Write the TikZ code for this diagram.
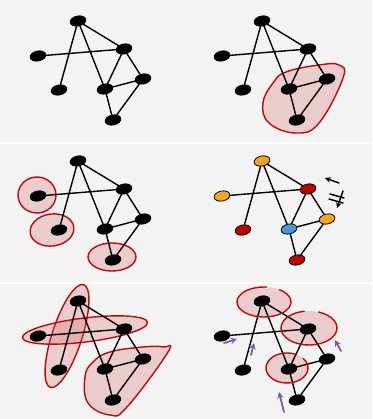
\documentclass[tikz,border=0pt]{standalone}
\usetikzlibrary{shapes.geometric}
\definecolor{bggray}{HTML}{F3F3F3}
\definecolor{blobred}{HTML}{BE0A0A}
\definecolor{blobpink}{HTML}{D25A5A}
\definecolor{vorange}{HTML}{F2A51E}
\definecolor{vred}{HTML}{C00000}
\definecolor{vblue}{HTML}{4A95D5}
\definecolor{hintpurple}{HTML}{7B5BA6}
\tikzset{
  vert/.style={ellipse, draw=black, fill=black, line width=0.8pt, minimum width=16pt, minimum height=10pt, inner sep=0pt, rotate=12},
  colA/.style={}, colB/.style={}, colC/.style={}, colD/.style={},
  colE/.style={}, colF/.style={}, colG/.style={},
  link/.style={line width=1.4pt},
  blob/.style={draw=blobred, line width=1.4pt, fill=blobpink, fill opacity=0.25},
  ring/.style={draw=blobred, line width=1.4pt},
  glow/.style={fill=blobpink, fill opacity=0.25},
  hint/.style={draw=hintpurple, line width=1.8pt, ->},
  note/.style={draw=black, line width=1.5pt}
}
% one copy of the graph, #1 = name prefix, (#2,#3) = panel corner
\newcommand{\graphpanel}[3]{%
  \begin{scope}[shift={(#2,#3)}]
    \node[vert, colA] (#1A) at (78,21) {};
    \node[vert, colB] (#1B) at (38,56) {};
    \node[vert, colC] (#1C) at (124,49) {};
    \node[vert, colD] (#1D) at (59,90) {};
    \node[vert, colE] (#1E) at (105,89) {};
    \node[vert, colF] (#1F) at (143,79) {};
    \node[vert, colG] (#1G) at (113,120) {};
    \draw[link] (#1A) -- (#1D) (#1A) -- (#1E) (#1A) -- (#1C) (#1B) -- (#1C)
      (#1C) -- (#1E) (#1C) -- (#1F) (#1E) -- (#1F) (#1E) -- (#1G) (#1F) -- (#1G);
  \end{scope}}

\begin{document}
\begin{tikzpicture}[x=1pt, y=-1pt, >=stealth, line cap=round, line join=round]
  \useasboundingbox (0,0) rectangle (372,419);
  \fill[bggray] (0,0) rectangle (372,419);
  \draw[white, line width=2pt] (0,143) -- (372,143) (0,283) -- (372,283);

  % top right: one cluster
  \begin{scope}[shift={(184,0)}]
    \draw[blob] plot[smooth cycle, tension=0.7] coordinates {(155,65) (159,78) (135,123) (112,133) (85,123) (79,103) (89,83) (102,72) (135,65)};
  \end{scope}

  % middle left: three single nodes
  \begin{scope}[shift={(0,140)}]
    \draw[blob] (37,55) ellipse[x radius=19, y radius=18];
    \draw[blob, rotate around={8:(52,90)}] (52,90) ellipse[x radius=22, y radius=16];
    \draw[blob] (112,117) ellipse[x radius=24, y radius=14];
  \end{scope}

  % bottom left: three overlapping clusters
  \begin{scope}[shift={(0,280)}]
    \draw[blob, rotate around={72:(67,56)}] (67,56) ellipse[x radius=54, y radius=15];
    \draw[blob, rotate around={7:(85,50)}] (85,50) ellipse[x radius=63, y radius=12];
    \draw[blob] plot[smooth cycle, tension=0.7] coordinates {(163,67) (168,72) (127,127) (110,135) (88,123) (85,97) (93,82) (110,72) (143,67)};
  \end{scope}

  % bottom right: glow under the rings
  \begin{scope}[shift={(184,280)}]
    \fill[glow] (80,22) ellipse[x radius=27, y radius=15];
    \fill[glow] (125,48) ellipse[x radius=28, y radius=17];
    \fill[glow] (103,88) ellipse[x radius=21, y radius=15];
  \end{scope}

  \graphpanel{p}{0}{0}
  \graphpanel{q}{184}{0}
  \graphpanel{r}{0}{140}
  \begin{scope}[colA/.style={fill=vorange}, colB/.style={fill=vorange}, colC/.style={fill=vred},
      colD/.style={fill=vred}, colE/.style={fill=vblue}, colF/.style={fill=vorange}, colG/.style={fill=vred}]
    \graphpanel{s}{184}{140}
  \end{scope}
  \graphpanel{t}{0}{280}
  \graphpanel{u}{184}{280}

  % middle right: swap note
  \begin{scope}[shift={(184,140)}]
    \draw[note, ->] (155,43) -- (141,38);
    \draw[note, ->] (159,51) -- (153,68);
    \draw[note] (146,54) -- (160,58) (145,59) -- (159,63);
  \end{scope}

  % bottom right: open rings and moves
  \begin{scope}[shift={(184,280)}]
    \draw[ring] (80,22) ++(-55:27 and 15) arc[start angle=-55, end angle=275, x radius=27, y radius=15];
    \draw[ring] (125,48) ++(-70:28 and 17) arc[start angle=-70, end angle=260, x radius=28, y radius=17];
    \draw[ring] (103,88) ++(-40:21 and 15) arc[start angle=-40, end angle=295, x radius=21, y radius=15];
    \draw[hint] (40,63) -- (53,59);
    \draw[hint] (67,75) -- (70,63);
    \draw[hint] (157,71) -- (151,60);
    \draw[hint] (100,132) -- (95,112);
  \end{scope}
\end{tikzpicture}
\end{document}
